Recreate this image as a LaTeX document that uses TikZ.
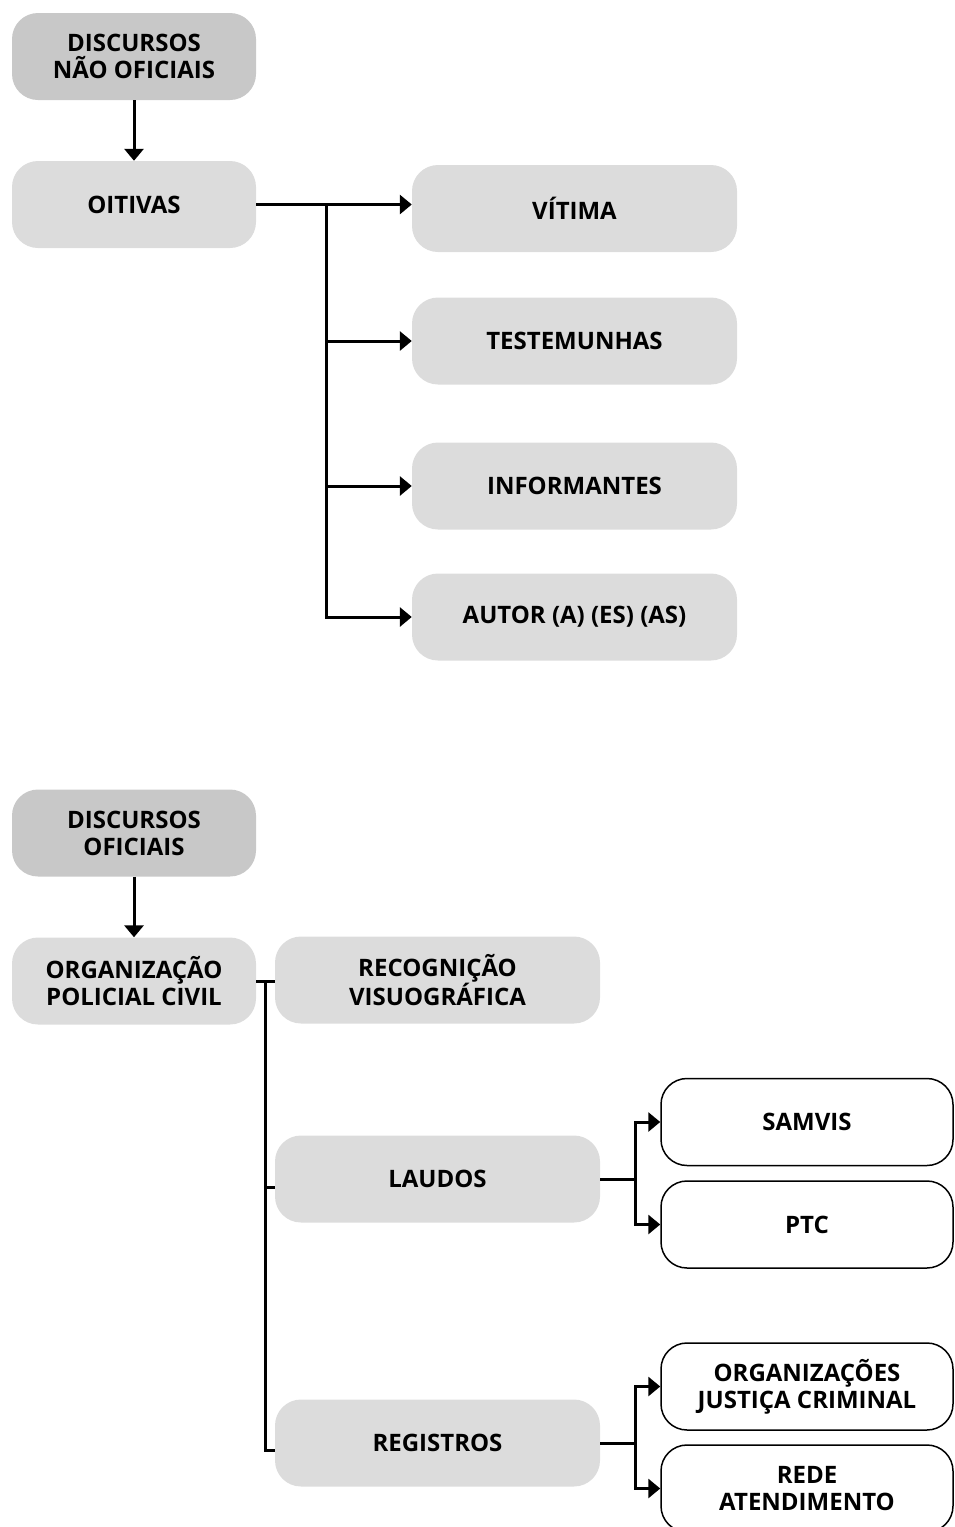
\documentclass[tikz,border=0pt]{standalone}
\usepackage{fontspec}
\setmainfont{Open Sans}
\usepackage{tikz}
\usetikzlibrary{arrows.meta}
\definecolor{boxgray}{HTML}{DCDCDC}
\definecolor{headgray}{HTML}{C8C8C8}
\tikzstyle{gbox}=[rounded corners=26pt, fill=boxgray, minimum height=87pt, align=center, inner sep=0pt, font=\fontsize{24}{27}\selectfont\bfseries]
\tikzstyle{head}=[gbox, fill=headgray, minimum width=244pt]
\tikzstyle{wbox}=[gbox, fill=white, draw=black, line width=1.5pt, minimum width=292pt]
\tikzstyle{link}=[line width=3pt]
\tikzstyle{arr}=[link, -{Triangle[length=12pt,width=19pt]}]

\begin{document}
\begin{tikzpicture}[x=1pt,y=-1pt]
	\useasboundingbox (0,0) rectangle (955,1527);
	\node[head] (dnof) at (134,56.5) {DISCURSOS\\NÃO OFICIAIS};
	\node[gbox, minimum width=244pt] (oitivas) at (134,204.5) {OITIVAS};
	\node[gbox, minimum width=325pt] (vitima) at (574.5,208.5) {VÍTIMA};
	\node[gbox, minimum width=325pt] (testem) at (574.5,341) {TESTEMUNHAS};
	\node[gbox, minimum width=325pt] (inform) at (574.5,486) {INFORMANTES};
	\node[gbox, minimum width=325pt] (autor) at (574.5,617) {AUTOR (A) (ES) (AS)};
	\draw[arr] (dnof) -- (oitivas);
	\draw[arr] (oitivas.east) -- (vitima.west |- oitivas.east);
	\coordinate (ob) at (326,204.5);
	\foreach \n in {testem,inform,autor}
		\draw[arr] (ob) |- (\n.west);

	\node[head] (dof) at (134,833) {DISCURSOS\\OFICIAIS};
	\node[gbox, minimum width=244pt] (opc) at (134,981) {ORGANIZAÇÃO\\POLICIAL CIVIL};
	\node[gbox, minimum width=325pt] (recog) at (437.5,980) {RECOGNIÇÃO\\VISUOGRÁFICA};
	\node[gbox, minimum width=325pt] (laudos) at (437.5,1179) {LAUDOS};
	\node[gbox, minimum width=325pt] (registros) at (437.5,1443) {REGISTROS};
	\node[wbox] (samvis) at (807,1122) {SAMVIS};
	\node[wbox] (ptc) at (807,1224.5) {PTC};
	\node[wbox] (ojc) at (807,1386.5) {ORGANIZAÇÕES\\JUSTIÇA CRIMINAL};
	\node[wbox] (rede) at (807,1488.5) {REDE\\ATENDIMENTO};
	\draw[arr] (dof) -- (opc);
	\draw[link] (opc.east) -- (recog.west |- opc.east);
	\coordinate (pb) at (265,981);
	\draw[link] (pb) |- ([yshift=-8pt]laudos.west);
	\draw[link] (pb) |- ([yshift=-7pt]registros.west);
	\coordinate (lj) at (635,1179);
	\draw[link] (laudos.east) -- (lj);
	\draw[arr] (lj) |- (samvis.west);
	\draw[arr] (lj) |- (ptc.west);
	\coordinate (rj) at (635,1443);
	\draw[link] (registros.east) -- (rj);
	\draw[arr] (rj) |- (ojc.west);
	\draw[arr] (rj) |- (rede.west);
\end{tikzpicture}
\end{document}
